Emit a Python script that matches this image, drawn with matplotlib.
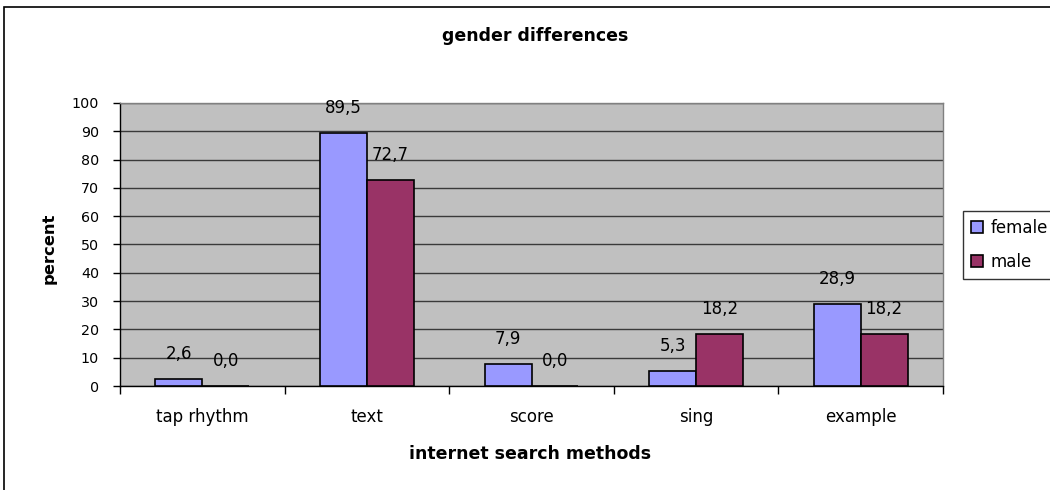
import numpy as np
import matplotlib.pyplot as plt
from matplotlib.patches import Rectangle

plt.rcParams['font.family'] = ['DejaVu Sans']

categories = ["tap rhythm", "text", "score", "sing", "example"]
female = [2.6, 89.5, 7.9, 5.3, 28.9]
male = [0.0, 72.7, 0.0, 18.2, 18.2]
y_ticks = list(range(0, 101, 10))

W, H = 1050, 490
fig = plt.figure(figsize=(W / 100, H / 100), dpi=100)
fig.patch.set_facecolor('white')


def fx(px):
    return px / W


def fy(py):
    return 1 - py / H


# outer chart frame
fig.patches.append(Rectangle((fx(4), -0.05), 1.1, fy(7) + 0.05,
                             transform=fig.transFigure, fill=False,
                             edgecolor='black', linewidth=1.2))

ax = fig.add_axes([fx(120), fy(386), fx(943 - 120), (386 - 103) / H])
ax.set_facecolor('#C0C0C0')

x = np.arange(len(categories))
bw = 0.285
b1 = ax.bar(x - bw / 2, female, bw, color='#9999FF', edgecolor='black',
            linewidth=1.2, label='female', zorder=3)
b2 = ax.bar(x + bw / 2, male, bw, color='#993366', edgecolor='black',
            linewidth=1.2, label='male', zorder=3)

for bars, vals in ((b1, female), (b2, male)):
    for rect, v in zip(bars, vals):
        ax.annotate(f"{v:.1f}".replace('.', ','),
                    (rect.get_x() + rect.get_width() / 2, v),
                    xytext=(0, 25), textcoords='offset pixels',
                    ha='center', va='center', fontsize=12, zorder=4)

ax.set_xlim(-0.5, len(categories) - 0.5)
ax.set_ylim(0, 100)
ax.set_yticks(y_ticks)
ax.set_yticklabels([str(t) for t in y_ticks], fontsize=10.3)
ax.set_xticks(np.arange(len(categories) + 1) - 0.5, minor=False)
ax.set_xticklabels([])
ax.set_xticks(x, minor=True)
ax.set_xticklabels(categories, minor=True, fontsize=12)
ax.tick_params(axis='x', which='minor', length=0, pad=16)
ax.tick_params(axis='x', which='major', length=6, direction='out', width=1)
ax.tick_params(axis='y', length=5, direction='out', width=1, pad=10)

ax.yaxis.grid(True, color='#3a3a3a', linewidth=1, zorder=1)
ax.set_axisbelow(True)
for side in ('top', 'right'):
    ax.spines[side].set_color('#808080')
    ax.spines[side].set_linewidth(1)
for side in ('left', 'bottom'):
    ax.spines[side].set_color('black')
    ax.spines[side].set_linewidth(1)

fig.text(fx(535), fy(41), "gender differences", ha='center', va='baseline',
         fontsize=12.5, fontweight='bold')
fig.text(fx(530), fy(459), "internet search methods", ha='center',
         va='baseline', fontsize=12.5, fontweight='bold')
fig.text(fx(49), fy(248), "percent", ha='center', va='center',
         rotation=90, fontsize=11.8, fontweight='bold')

leg = fig.legend(handles=[b1, b2], loc='lower left',
                 bbox_to_anchor=(fx(963), fy(279)), fontsize=12,
                 frameon=True, fancybox=False, handlelength=0.72,
                 handleheight=0.72, handletextpad=0.42, borderpad=0.5,
                 labelspacing=0.95, borderaxespad=0)
leg.get_frame().set_edgecolor('black')
leg.get_frame().set_linewidth(1)

fig.savefig('out.png', dpi=100)
